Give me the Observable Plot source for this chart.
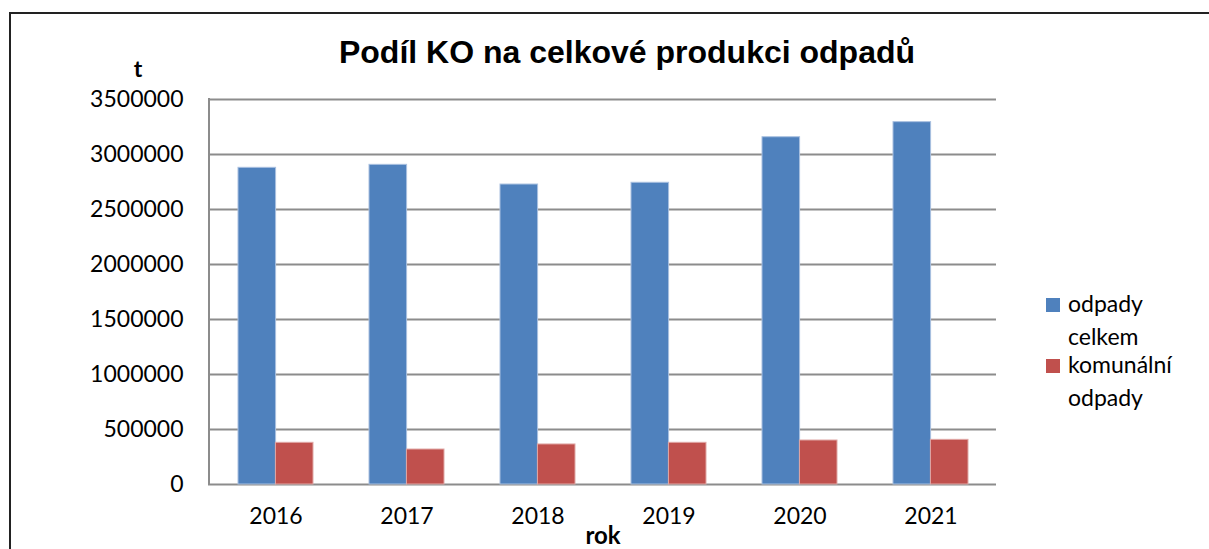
<!DOCTYPE html>
<html><head><meta charset="utf-8">
<script src="https://cdn.jsdelivr.net/npm/d3@7"></script>
<script src="https://cdn.jsdelivr.net/npm/@observablehq/plot@0.6"></script>
<style>
body{margin:0;background:#fff;}
#wrap{position:relative;width:1209px;height:549px;overflow:hidden;font-family:Lato,sans-serif;color:#000;}
#frame{position:absolute;left:9px;top:12px;width:1400px;height:800px;border:2px solid #222;box-sizing:border-box;}
#chart{position:absolute;left:0;top:0;}
#title{position:absolute;left:0;width:1254px;top:32px;text-align:center;font-family:"Liberation Sans",Arial,sans-serif;font-weight:bold;font-size:32px;line-height:40px;white-space:nowrap;}
#ylab{position:absolute;left:128px;top:53px;width:20px;text-align:center;font-weight:bold;font-size:23px;line-height:30px;}
#xlab{position:absolute;left:563px;width:80px;top:523px;text-align:center;font-weight:bold;font-size:24px;line-height:24px;}
#legend{position:absolute;left:1046px;top:287px;}
.item{position:relative;padding-left:22px;font-size:23px;line-height:33px;margin-bottom:-5px;}
.sw{position:absolute;left:0;top:11px;width:14px;height:14px;}
</style></head>
<body>
<div id="wrap">
  <div id="frame"></div>
  <div id="chart"></div>
  <div id="title"></div>
  <div id="ylab"></div>
  <div id="xlab"></div>
  <div id="legend"></div>
</div>
<script>
const titleText = "Podíl KO na celkové produkci odpadů";
const yLabel = "t";
const xLabel = "rok";
const years = ["2016", "2017", "2018", "2019", "2020", "2021"];
const seriesNames = ["odpady celkem", "komunální odpady"];
const legendLines = [["odpady", "celkem"], ["komunální", "odpady"]];
const totalWaste = [2879000, 2906000, 2727000, 2743000, 3157000, 3294000];
const municipalWaste = [379000, 318000, 364000, 379000, 400000, 406000];
const yTicks = [0, 500000, 1000000, 1500000, 2000000, 2500000, 3000000, 3500000];
const colors = ["#4F81BD", "#C0504D"];
const strokes = ["#a9c0e0", "#e0a8a6"];

const totalRows = years.map((yr, i) => ({year: yr, value: totalWaste[i]}));
const municipalRows = years.map((yr, i) => ({year: yr, value: municipalWaste[i]}));

document.getElementById("title").textContent = titleText;
document.getElementById("ylab").textContent = yLabel;
document.getElementById("xlab").textContent = xLabel;

const legend = document.getElementById("legend");
seriesNames.forEach((s, i) => {
  const it = document.createElement("div");
  it.className = "item";
  const sw = document.createElement("div");
  sw.className = "sw";
  sw.style.background = colors[i];
  it.appendChild(sw);
  legendLines[i].forEach(t => {
    const l = document.createElement("div");
    l.textContent = t;
    it.appendChild(l);
  });
  legend.appendChild(it);
});

const half = 37.4; // half of the bar-group width (styling)
const chart = Plot.plot({
  width: 1209,
  height: 549,
  marginLeft: 209,
  marginRight: 213,
  marginTop: 99,
  marginBottom: 65,
  style: {fontFamily: "Lato, sans-serif", fontSize: "23px", color: "#000", background: "transparent"},
  x: {domain: years, paddingInner: 0.43, paddingOuter: 0.215, label: null, tickSize: 0, tickPadding: 23},
  y: {domain: [0, 3500000], ticks: yTicks, tickFormat: d3.format("d"), tickSize: 0, tickPadding: 26, label: null},
  marks: [
    Plot.ruleY(yTicks, {stroke: "#8c8c8c", strokeWidth: 2, insetLeft: -1}),
    Plot.barY(totalRows, {x: "year", y: "value", fill: colors[0], stroke: strokes[0], strokeWidth: 1, insetRight: half}),
    Plot.barY(municipalRows, {x: "year", y: "value", fill: colors[1], stroke: strokes[1], strokeWidth: 1, insetLeft: half})
  ]
});
document.getElementById("chart").appendChild(chart);

// left axis line along the y scale extent
const svgEl = chart.tagName.toLowerCase() === "svg" ? chart : chart.querySelector("svg");
const ys = chart.scale("y");
const xr = chart.scale("x").range;
d3.select(svgEl).append("line")
  .attr("x1", xr[0]).attr("x2", xr[0])
  .attr("y1", ys.apply(3500000) - 1).attr("y2", ys.apply(0) + 1)
  .attr("stroke", "#8c8c8c").attr("stroke-width", 2);
</script>
</body></html>
